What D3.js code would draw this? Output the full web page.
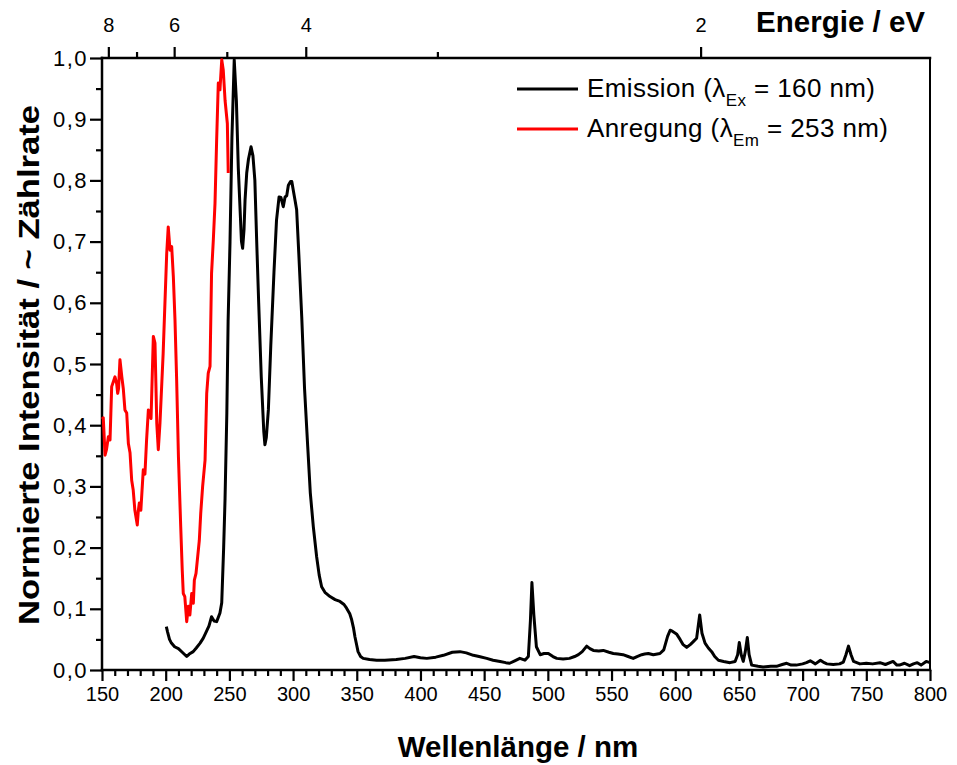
<!DOCTYPE html>
<html lang="de">
<head>
<meta charset="utf-8">
<title>Emission / Anregung</title>
<script src="https://d3js.org/d3.v7.min.js"></script>
<style>
  body { margin: 0; background: #fff; }
  text { font-family: "Liberation Sans", Arial, sans-serif; fill: #000; }
  .title { font-weight: bold; }
</style>
</head>
<body>
<div id="chart"></div>
<script>
// Emission (lambda_Ex = 160 nm)
const emissionWl = [200.5,201.5,203,204.5,207,210,213,216.5,218.5,221.6,224,227,229.5,232,234,236,238,240,242.6,244,245.5,246.6,248,249,250.5,252,253.8,255.5,257,258.3,259.5,260.4,261.5,262.3,263.6,265,267,268.5,270,271.4,273,275,277,277.9,279,280.6,282.5,285,287,289,290.5,292.3,293.7,295,296.3,298,299,300.5,301.5,302.8,304.5,306.8,309,311.5,313.5,315.9,318.5,320.5,322.4,325,329,333,336.8,340,342,344.5,346,347.5,348.6,350,351,353,355,360,365.6,372,381,388,395,400,405,412,418,425,431,436,441.5,446,452,457,462.5,467,470,474,478,482,484.7,486.3,487.5,489,491,494,497,500.4,504,507,512,517,521,524,527,530.5,533,535.7,540,543.5,548,551.4,555,559,563,567,570,573.7,576,578.9,582.8,588,591,594,596,598,601,603.8,606,609,612,614,616.8,619.2,621,623.4,626,628.6,631,633.9,638,643,647,649,650.3,651.8,653.4,655,656.6,658,660,665,669,675,679.5,684,687.5,691,695,700,703,706,710,714,717,719,724,729,732,734,736,738,740,745,750,755,760.7,765,771,774,776,780,784,787,790,793,797,800];
const emissionVal = [0.071,0.062,0.05,0.044,0.038,0.035,0.029,0.022,0.026,0.03,0.036,0.044,0.052,0.063,0.072,0.087,0.08,0.079,0.093,0.11,0.2,0.28,0.42,0.57,0.7,0.87,0.997,0.93,0.82,0.757,0.7,0.689,0.72,0.768,0.812,0.835,0.855,0.84,0.8,0.703,0.6,0.48,0.39,0.368,0.38,0.425,0.53,0.65,0.735,0.773,0.772,0.757,0.773,0.775,0.792,0.798,0.798,0.78,0.768,0.752,0.68,0.577,0.46,0.365,0.29,0.234,0.185,0.155,0.136,0.127,0.12,0.115,0.112,0.107,0.101,0.092,0.082,0.068,0.054,0.04,0.03,0.022,0.019,0.017,0.016,0.016,0.017,0.019,0.022,0.02,0.019,0.021,0.024,0.029,0.03,0.028,0.024,0.022,0.019,0.016,0.014,0.012,0.011,0.015,0.019,0.016,0.022,0.08,0.143,0.09,0.038,0.025,0.027,0.027,0.022,0.019,0.018,0.019,0.022,0.025,0.03,0.039,0.035,0.032,0.031,0.032,0.029,0.027,0.026,0.025,0.022,0.019,0.022,0.025,0.026,0.027,0.025,0.027,0.033,0.055,0.065,0.063,0.059,0.05,0.042,0.037,0.042,0.046,0.052,0.09,0.06,0.044,0.036,0.03,0.022,0.016,0.014,0.012,0.014,0.025,0.045,0.025,0.014,0.03,0.053,0.025,0.008,0.006,0.005,0.006,0.006,0.009,0.011,0.008,0.008,0.01,0.012,0.015,0.01,0.016,0.012,0.01,0.009,0.01,0.013,0.025,0.039,0.025,0.014,0.01,0.011,0.01,0.012,0.009,0.014,0.008,0.008,0.011,0.007,0.01,0.012,0.008,0.014,0.012];

// Anregung (lambda_Em = 253 nm)
const excitationWl = [150,151,152.4,153.5,155,156.3,157.6,158.9,160.2,161.5,162.3,163,164.1,165.5,166.7,168,169.4,170.7,172,173.3,174.5,175.8,177.7,178.5,179.3,180.5,182.4,183.7,185,186.4,188.5,190.3,191.6,193,194.2,195.5,198,200.8,202,203.4,204.7,206,207.3,208.6,210,210.6,211.8,213,213.8,215,216.5,217.8,219,220.4,221.7,222.5,223.8,226.4,227.5,229,230.9,232.2,233.4,234.8,236,237.4,238.7,240,241.3,242.6,244,245.2,246.6,248.4,249.1];
const excitationVal = [0.41,0.412,0.351,0.36,0.381,0.376,0.463,0.471,0.479,0.468,0.452,0.46,0.507,0.48,0.46,0.425,0.42,0.37,0.355,0.31,0.294,0.261,0.237,0.26,0.273,0.261,0.327,0.32,0.376,0.425,0.411,0.545,0.534,0.403,0.36,0.403,0.517,0.681,0.724,0.686,0.692,0.643,0.572,0.474,0.349,0.31,0.234,0.163,0.125,0.12,0.079,0.104,0.09,0.125,0.109,0.147,0.158,0.212,0.256,0.3,0.343,0.452,0.485,0.496,0.648,0.703,0.762,0.866,0.959,0.948,0.997,0.98,0.931,0.893,0.812];

const energyMajor = [8, 6, 4, 2];
const energyMinor = [7, 5, 3];
const yTicks = [0, 0.1, 0.2, 0.3, 0.4, 0.5, 0.6, 0.7, 0.8, 0.9, 1.0];

const W = 957, H = 765;
const margin = {left: 102, right: 27, top: 58, bottom: 95};

const svg = d3.select("#chart").append("svg")
    .attr("width", W)
    .attr("height", H);

const x = d3.scaleLinear().domain([150, 800]).range([margin.left, W - margin.right]);
const y = d3.scaleLinear().domain([0, 1]).range([H - margin.bottom, margin.top]);
const nmFromEv = e => 1239.84 / e;
const fmt = d => d3.format(".1f")(d).replace(".", ",");
const noDomain = g => g.select(".domain").remove();

// bottom axis
svg.append("g").attr("transform", `translate(0,${y(0)})`)
    .call(d3.axisBottom(x)
        .tickValues(d3.range(160, 800, 10).filter(v => v % 50 !== 0))
        .tickSize(6).tickFormat(""))
    .call(noDomain);
svg.append("g").attr("transform", `translate(0,${y(0)})`)
    .call(d3.axisBottom(x)
        .tickValues(d3.range(150, 801, 50))
        .tickSize(11).tickPadding(6)
        .tickFormat(d3.format("d")))
    .call(noDomain);

// left axis
svg.append("g").attr("transform", `translate(${x(150)},0)`)
    .call(d3.axisLeft(y).tickValues(d3.range(0.05, 1, 0.1)).tickSize(6).tickFormat(""))
    .call(noDomain);
svg.append("g").attr("class", "yaxis").attr("transform", `translate(${x(150)},0)`)
    .call(d3.axisLeft(y).tickValues(yTicks).tickSize(12).tickPadding(2).tickFormat(fmt))
    .call(noDomain);

// top axis (Energie)
svg.append("g").attr("transform", `translate(0,${y(1)})`)
    .call(d3.axisTop(x).tickValues(energyMinor.map(nmFromEv)).tickSize(6).tickFormat(""))
    .call(noDomain);
svg.append("g").attr("transform", `translate(0,${y(1)})`)
    .call(d3.axisTop(x)
        .tickValues(energyMajor.map(nmFromEv))
        .tickSize(11).tickPadding(15)
        .tickFormat((d, i) => energyMajor[i]))
    .call(noDomain);

svg.selectAll(".tick line").attr("stroke-width", 2.2).attr("stroke", "#000");
svg.selectAll(".tick text").style("font-size", "20px").attr("fill", "#000");
svg.selectAll(".yaxis .tick text").style("font-size", "22px").style("letter-spacing", "1.5px");

// frame
const frame = [
    [x(150), y(0), x(800), y(0)],
    [x(150), y(1), x(800), y(1)],
    [x(150), y(1), x(150), y(0)],
    [x(800), y(1), x(800), y(0)]
];
svg.append("g").selectAll("line").data(frame).join("line")
    .attr("x1", d => d[0]).attr("y1", d => d[1])
    .attr("x2", d => d[2]).attr("y2", d => d[3])
    .attr("stroke", "#000").attr("stroke-width", (d, i) => i === 3 ? 2 : 2.5)
    .attr("stroke-linecap", "square");

// curves
const line = d3.line().x(d => x(d[0])).y(d => y(d[1]));
const emission = emissionWl.map((w, i) => [w, emissionVal[i]]);
const excitation = excitationWl.map((w, i) => [w, excitationVal[i]]);

svg.append("path").datum(emission)
    .attr("d", line).attr("fill", "none")
    .attr("stroke", "#000").attr("stroke-width", 3)
    .attr("stroke-linejoin", "round");
svg.append("path").datum(excitation)
    .attr("d", line).attr("fill", "none")
    .attr("stroke", "#ff0000").attr("stroke-width", 3)
    .attr("stroke-linejoin", "round");

// axis titles
svg.append("text").attr("class", "title")
    .attr("x", (x(150) + x(800)) / 2 + 2).attr("y", 757)
    .attr("text-anchor", "middle").style("font-size", "29.5px")
    .text("Wellenlänge / nm");
svg.append("text").attr("class", "title")
    .attr("transform", `translate(39,${(y(0) + y(1)) / 2 + 1}) rotate(-90)`)
    .attr("text-anchor", "middle").style("font-size", "30px")
    .attr("textLength", 520).attr("lengthAdjust", "spacingAndGlyphs")
    .text("Normierte Intensität / ~ Zählrate");
svg.append("text").attr("class", "title")
    .attr("x", 925).attr("y", 32)
    .attr("text-anchor", "end").style("font-size", "29.5px")
    .text("Energie / eV");

// legend
const legend = [
    {label: "Emission (λ", sub: "Ex", rest: " = 160 nm)", color: "#000"},
    {label: "Anregung (λ", sub: "Em", rest: " = 253 nm)", color: "#ff0000"}
];
legend.forEach((d, i) => {
    const ly = 89 + i * 40;
    svg.append("line").attr("x1", 517).attr("x2", 578).attr("y1", ly).attr("y2", ly)
        .attr("stroke", d.color).attr("stroke-width", 3);
    const t = svg.append("text").attr("x", 587).attr("y", ly + 8)
        .style("font-size", "26px").style("letter-spacing", "0.4px");
    t.append("tspan").text(d.label);
    t.append("tspan").attr("dy", 9).style("font-size", "17px").text(d.sub);
    t.append("tspan").attr("dy", -9).text(d.rest);
});
</script>
</body>
</html>
